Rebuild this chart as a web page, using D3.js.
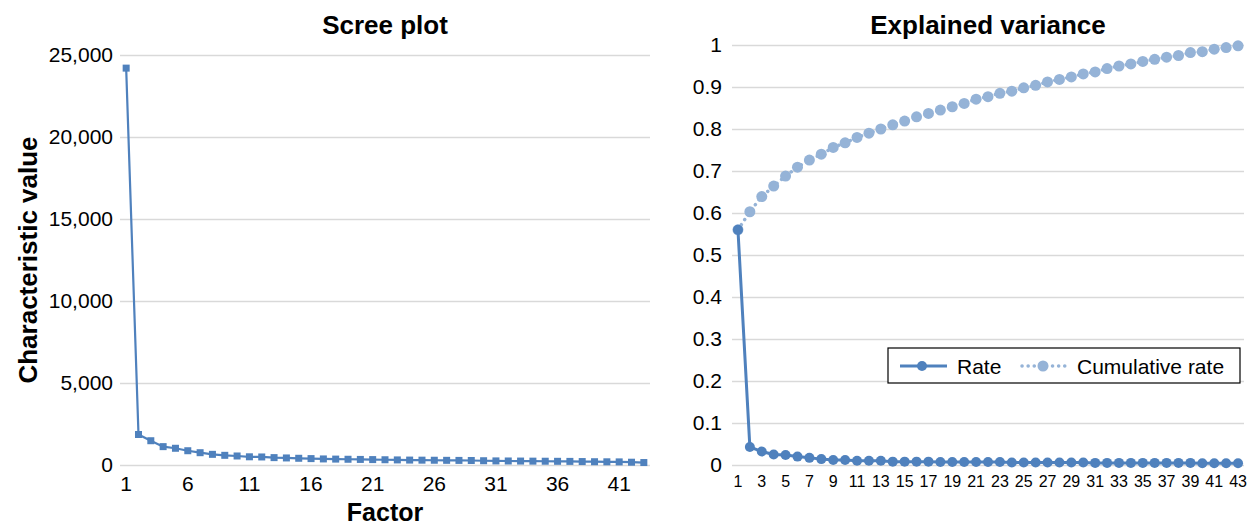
<!DOCTYPE html>
<html>
<head>
<meta charset="utf-8">
<script src="https://cdn.jsdelivr.net/npm/d3@7"></script>
<style>
  body { margin: 0; background: #fff; }
  svg { font-family: "Liberation Sans", Arial, sans-serif; }
  .grid line { stroke: #d9d9d9; stroke-width: 1.5; }
  .grid .domain { display: none; }
</style>
</head>
<body>
<svg id="canvas" width="1248" height="527"></svg>
<script>
// factor numbers 1..43
let factors = ['1','2','3','4','5','6','7','8','9','10','11','12','13','14','15','16','17','18','19','20','21','22','23','24','25','26','27','28','29','30','31','32','33','34','35','36','37','38','39','40','41','42','43']

// scree plot values (characteristic value)
let eigenValues = [24200, 1860, 1480, 1120, 1020, 870, 750, 650, 590, 550, 500, 490, 450, 430, 410, 390, 370, 360, 350, 340,
    330, 320, 310, 300, 295, 290, 285, 280, 275, 260, 250, 245, 240, 235, 230, 225, 220, 210, 200, 195, 190, 170, 150]

// explained variance
let rateValues = [0.56, 0.043, 0.032, 0.025, 0.024, 0.020, 0.017, 0.014, 0.012, 0.012, 0.010, 0.010, 0.010, 0.008, 0.008,
    0.008, 0.008, 0.007, 0.007, 0.007, 0.007, 0.007, 0.007, 0.006, 0.006, 0.006, 0.006, 0.006, 0.006, 0.006, 0.005, 0.005,
    0.005, 0.005, 0.005, 0.005, 0.005, 0.005, 0.005, 0.004, 0.004, 0.004, 0.004]
let cumulativeValues = [0.560, 0.603, 0.639, 0.664, 0.688, 0.709, 0.726, 0.740, 0.756, 0.767, 0.780, 0.790, 0.800, 0.810,
    0.819, 0.829, 0.837, 0.845, 0.853, 0.861, 0.871, 0.877, 0.885, 0.890, 0.898, 0.904, 0.912, 0.918, 0.924, 0.931, 0.936,
    0.944, 0.950, 0.955, 0.961, 0.966, 0.971, 0.975, 0.982, 0.984, 0.990, 0.994, 0.998]

let screeTicks = [0, 5000, 10000, 15000, 20000, 25000]
let screeXTicks = ['1','6','11','16','21','26','31','36','41']
let varTicks = [0, 0.1, 0.2, 0.3, 0.4, 0.5, 0.6, 0.7, 0.8, 0.9, 1]
let varXTicks = factors.filter((d, i) => i % 2 === 0)

let seriesNames = ['Rate', 'Cumulative rate']

let canvas = d3.select('#canvas')
let dark = '#4f81bd'
let light = '#95b3d7'

// ---------- left: scree plot ----------
let left = { x0: 120, x1: 650, y0: 55, y1: 465 }

let x1 = d3.scaleBand().domain(factors).range([left.x0, left.x1])
let y1 = d3.scaleLinear().domain([0, 25000]).range([left.y1, left.y0])

let gL = canvas.append('g')

gL.append('g')
    .attr('class', 'grid')
    .attr('transform', 'translate(' + left.x0 + ',0)')
    .call(d3.axisLeft(y1).tickValues(screeTicks).tickSize(-(left.x1 - left.x0)).tickPadding(7).tickFormat(d3.format(',')))
    .call(g => g.selectAll('text').attr('font-size', 21).attr('fill', '#000'))

gL.append('g')
    .attr('transform', 'translate(0,' + left.y1 + ')')
    .call(d3.axisBottom(x1).tickValues(screeXTicks).tickSize(0).tickPadding(11))
    .call(g => g.select('.domain').remove())
    .call(g => g.selectAll('text').attr('font-size', 21).attr('fill', '#000'))

let cx1 = (d, i) => x1(factors[i]) + x1.bandwidth() / 2

gL.append('path')
    .datum(eigenValues)
    .attr('fill', 'none')
    .attr('stroke', dark)
    .attr('stroke-width', 2.2)
    .attr('d', d3.line().x(cx1).y(d => y1(d)))

gL.selectAll('rect.pt')
    .data(eigenValues)
    .enter()
    .append('rect')
    .attr('class', 'pt')
    .attr('x', (d, i) => cx1(d, i) - 3.5)
    .attr('y', d => y1(d) - 3.5)
    .attr('width', 7)
    .attr('height', 7)
    .attr('fill', dark)

gL.append('text')
    .attr('x', (left.x0 + left.x1) / 2)
    .attr('y', 34)
    .attr('text-anchor', 'middle')
    .attr('font-size', 26)
    .attr('font-weight', 'bold')
    .text('Scree plot')

gL.append('text')
    .attr('x', (left.x0 + left.x1) / 2)
    .attr('y', 521)
    .attr('text-anchor', 'middle')
    .attr('font-size', 25)
    .attr('font-weight', 'bold')
    .text('Factor')

gL.append('text')
    .attr('transform', 'translate(37,' + ((left.y0 + left.y1) / 2) + ') rotate(-90)')
    .attr('text-anchor', 'middle')
    .attr('font-size', 26)
    .attr('font-weight', 'bold')
    .text('Characteristic value')

// ---------- right: explained variance ----------
let right = { x0: 732, x1: 1244, y0: 45, y1: 465 }

let x2 = d3.scaleBand().domain(factors).range([right.x0, right.x1])
let y2 = d3.scaleLinear().domain([0, 1]).range([right.y1, right.y0])

let gR = canvas.append('g')

gR.append('g')
    .attr('class', 'grid')
    .attr('transform', 'translate(' + right.x0 + ',0)')
    .call(d3.axisLeft(y2).tickValues(varTicks).tickSize(-(right.x1 - right.x0)).tickPadding(10).tickFormat(d => d3.format('')(+d.toFixed(1))))
    .call(g => g.selectAll('text').attr('font-size', 21).attr('fill', '#000'))

gR.append('g')
    .attr('transform', 'translate(0,' + right.y1 + ')')
    .call(d3.axisBottom(x2).tickValues(varXTicks).tickSize(0).tickPadding(11))
    .call(g => g.select('.domain').remove())
    .call(g => g.selectAll('text').attr('font-size', 16).attr('fill', '#000'))

let cx2 = (d, i) => x2(factors[i]) + x2.bandwidth() / 2

// cumulative (dotted)
gR.append('path')
    .datum(cumulativeValues)
    .attr('fill', 'none')
    .attr('stroke', light)
    .attr('stroke-width', 3.5)
    .attr('stroke-linecap', 'round')
    .attr('stroke-dasharray', '0.1 6')
    .attr('d', d3.line().x(cx2).y(d => y2(d)))

gR.selectAll('circle.cum')
    .data(cumulativeValues)
    .enter()
    .append('circle')
    .attr('class', 'cum')
    .attr('cx', cx2)
    .attr('cy', d => y2(d))
    .attr('r', 5.5)
    .attr('fill', light)

// rate (solid)
gR.append('path')
    .datum(rateValues)
    .attr('fill', 'none')
    .attr('stroke', dark)
    .attr('stroke-width', 3)
    .attr('d', d3.line().x(cx2).y(d => y2(d)))

gR.selectAll('circle.rate')
    .data(rateValues)
    .enter()
    .append('circle')
    .attr('class', 'rate')
    .attr('cx', cx2)
    .attr('cy', d => y2(d))
    .attr('r', 5)
    .attr('fill', dark)

gR.append('text')
    .attr('x', 988)
    .attr('y', 34)
    .attr('text-anchor', 'middle')
    .attr('font-size', 26)
    .attr('font-weight', 'bold')
    .text('Explained variance')

// legend
let lg = gR.append('g').attr('transform', 'translate(888,348)')
lg.append('rect')
    .attr('width', 352)
    .attr('height', 35)
    .attr('fill', '#fff')
    .attr('stroke', '#000')
    .attr('stroke-width', 1.2)

lg.append('line')
    .attr('x1', 12).attr('x2', 59).attr('y1', 18).attr('y2', 18)
    .attr('stroke', dark).attr('stroke-width', 3)
lg.append('circle').attr('cx', 34).attr('cy', 18).attr('r', 5).attr('fill', dark)
lg.append('text').attr('x', 69).attr('y', 25.5).attr('font-size', 21).text(seriesNames[0])

lg.append('line')
    .attr('x1', 134).attr('x2', 179).attr('y1', 18).attr('y2', 18)
    .attr('stroke', light).attr('stroke-width', 3.5)
    .attr('stroke-linecap', 'round').attr('stroke-dasharray', '0.1 6')
lg.append('circle').attr('cx', 155).attr('cy', 18).attr('r', 5.5).attr('fill', light)
lg.append('text').attr('x', 189).attr('y', 25.5).attr('font-size', 21).text(seriesNames[1])
</script>
</body>
</html>
